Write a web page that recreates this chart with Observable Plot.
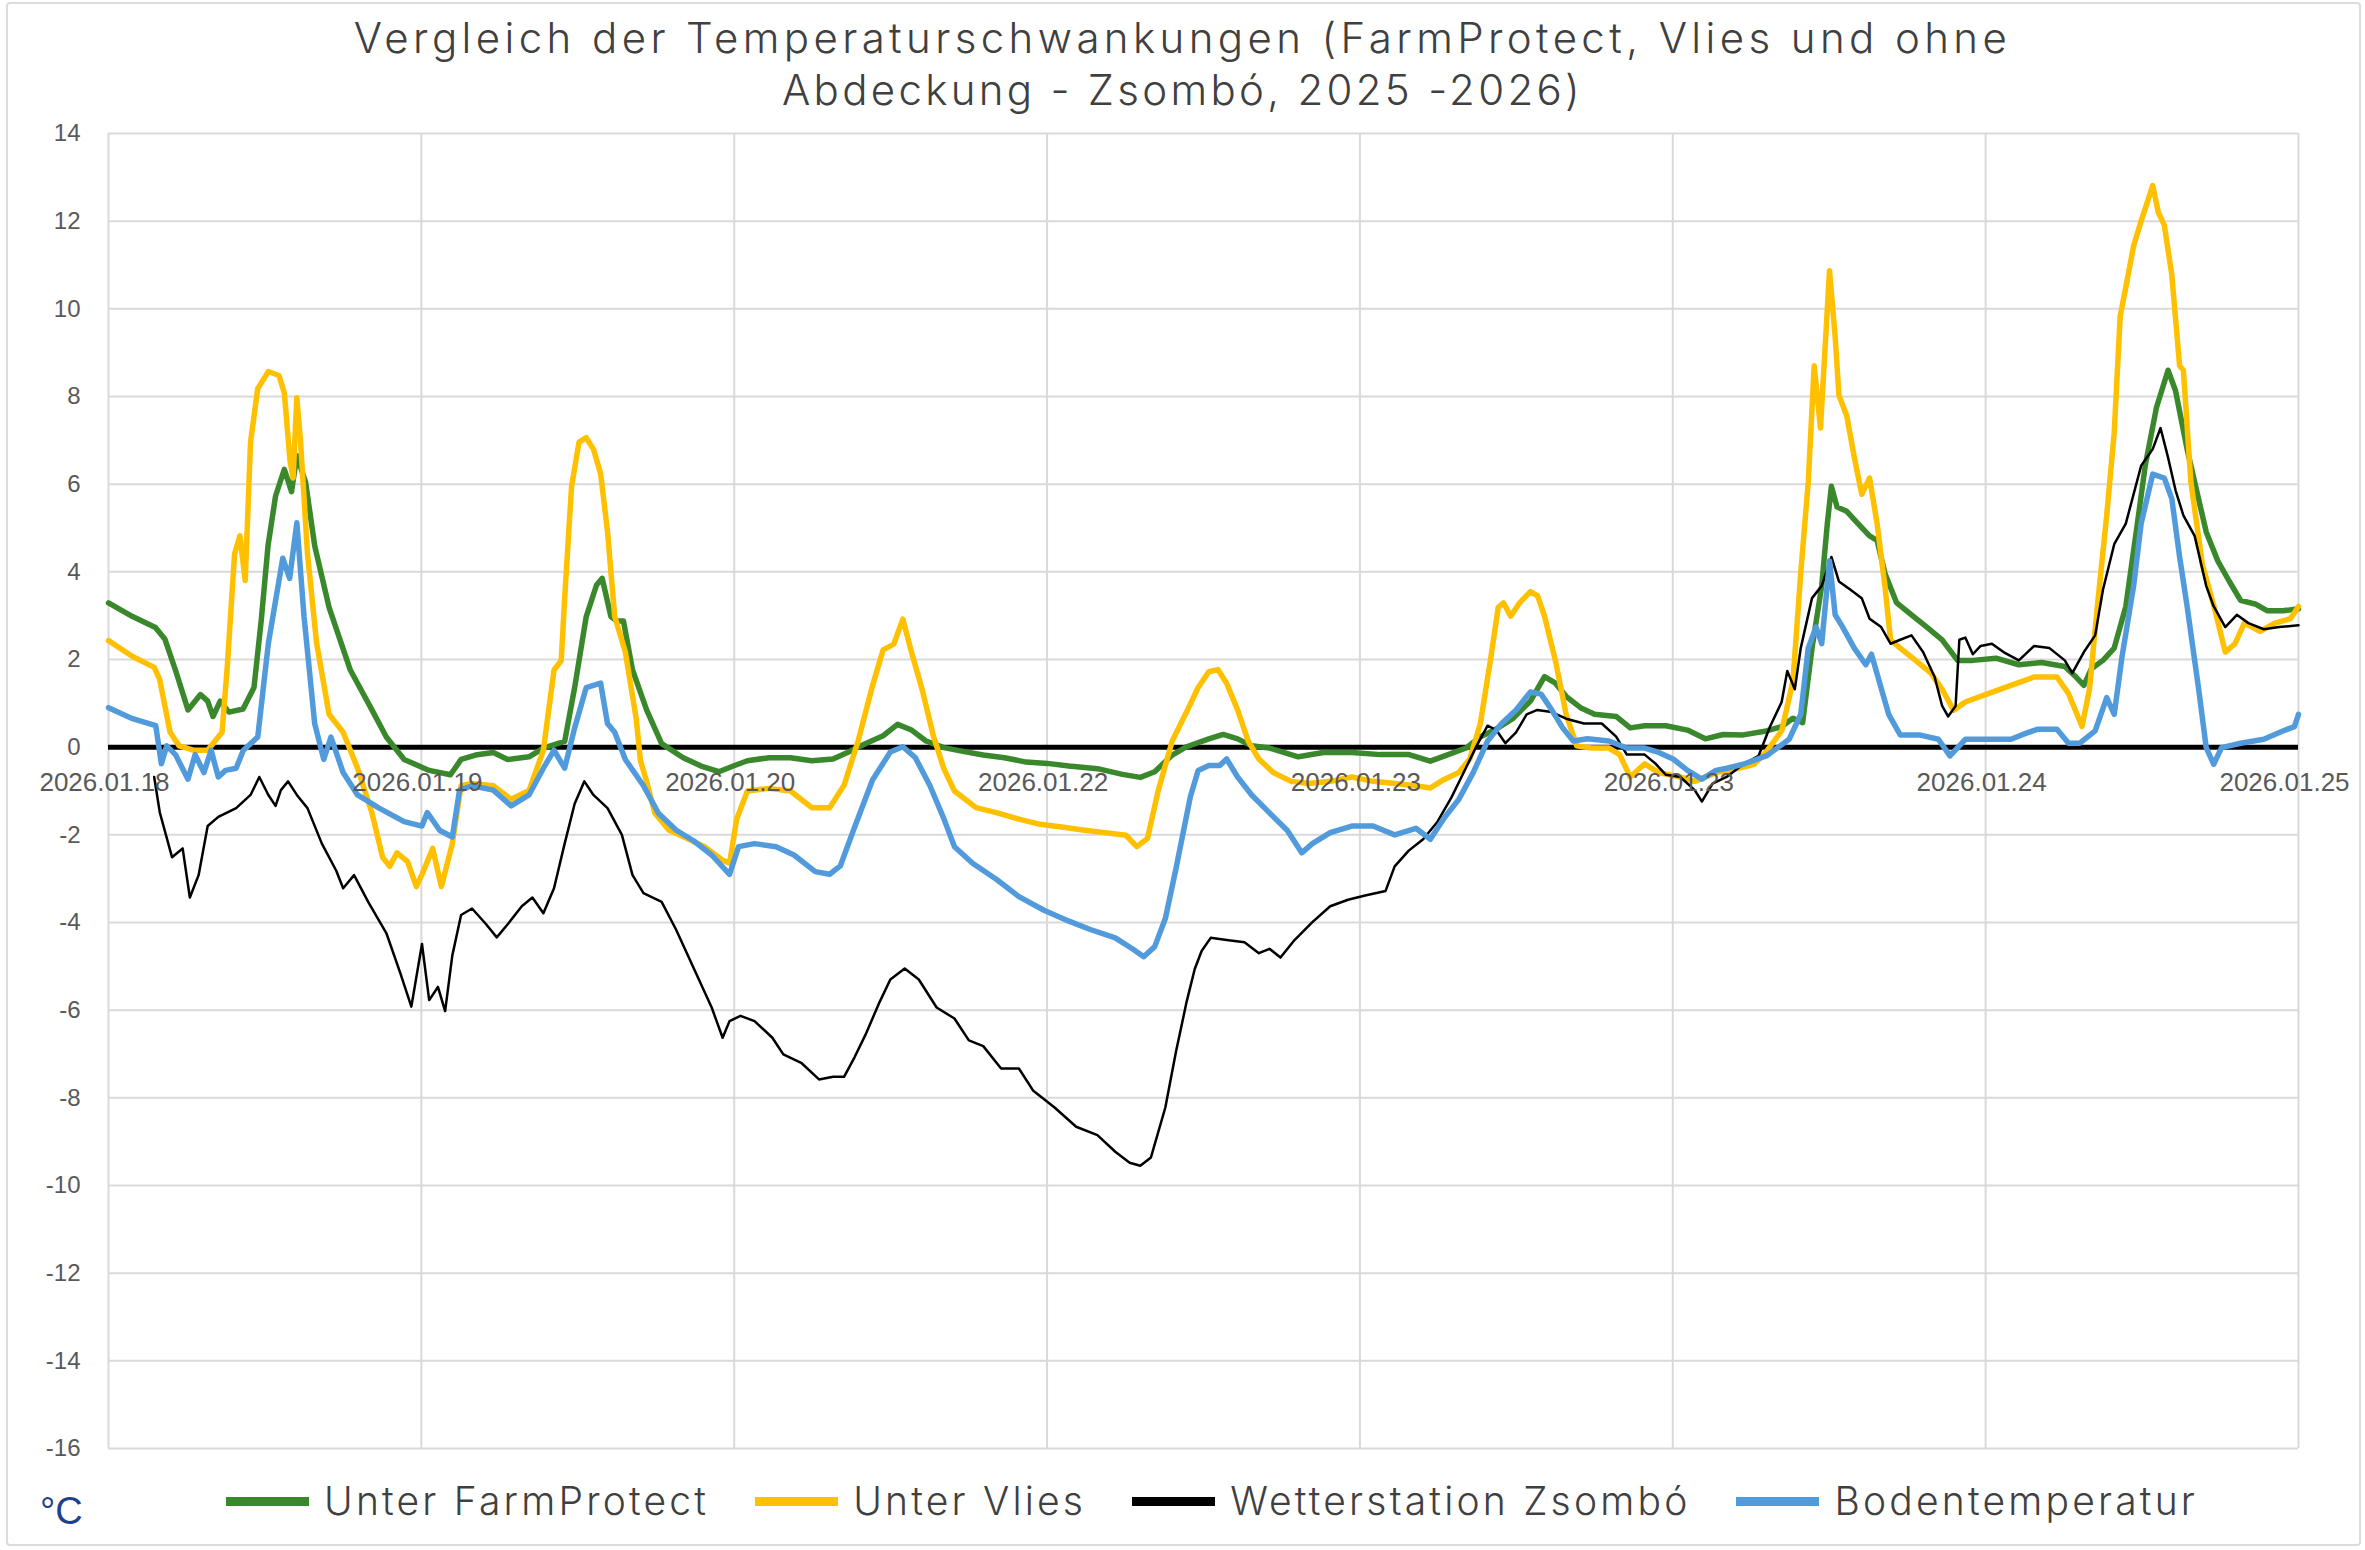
<!DOCTYPE html>
<html>
<head>
<meta charset="utf-8">
<script src="https://cdn.jsdelivr.net/npm/d3@7"></script>
<script src="https://cdn.jsdelivr.net/npm/@observablehq/plot@0.6"></script>
<style>
html, body { margin: 0; padding: 0; background: #fff; }
#frame { position: relative; width: 2365px; height: 1550px; overflow: hidden; background: #fff; font-family: Inter, "Open Sans", sans-serif; }
#border { position: absolute; left: 6px; top: 2px; width: 2351px; height: 1540px; border: 2px solid #dcdcdc; border-radius: 4px; pointer-events: none; }
.tline { position: absolute; left: 0; width: 2365px; height: 52px; text-align: center; color: #404040; font-size: 42px; font-weight: 300; line-height: 52px; white-space: nowrap; }
#chart { position: absolute; left: 0; top: 118px; }
#legend { position: absolute; left: 0; top: 1468px; width: 2365px; height: 66px; }
#unit { position: absolute; left: 40px; top: 10px; font-family: "Liberation Sans", Arial, sans-serif; font-size: 38px; color: #1f3f8f; line-height: 66px; }
#items { position: absolute; left: 226px; top: 0; height: 66px; display: flex; align-items: center; }
.item { display: flex; align-items: center; margin-right: 46px; }
.swatch { display: inline-block; width: 83px; height: 9px; margin-right: 15px; }
.label { font-size: 39px; font-weight: 300; letter-spacing: 3.2px; color: #404040; line-height: 66px; white-space: nowrap; }
</style>
</head>
<body>
<div id="frame">
  <div class="tline" style="top:12px; letter-spacing:4.4px">Vergleich der Temperaturschwankungen (FarmProtect, Vlies und ohne</div>
  <div class="tline" style="top:64px; letter-spacing:3.3px">Abdeckung - Zsombó, 2025 -2026)</div>
  <div id="chart"></div>
  <div id="legend"><span id="unit">°C</span><div id="items"></div></div>
  <div id="border"></div>
</div>
<script>
// ---- data (x = days since first label, y = °C) ----
const dayLabels = ["2026.01.18","2026.01.19","2026.01.20","2026.01.22","2026.01.23","2026.01.23","2026.01.24","2026.01.25"];
const yTicks = [-16,-14,-12,-10,-8,-6,-4,-2,0,2,4,6,8,10,12,14];
const seriesNames = ["Unter FarmProtect","Unter Vlies","Wetterstation Zsombó","Bodentemperatur"];
const seriesColors = ["#3a882c","#ffc000","#000000","#519bdd"];
const seriesWidths = [5.5, 5.5, 2.5, 5.5];

const farmProtect = [[0,3.29],[0.077,2.98],[0.15,2.73],[0.18,2.47],[0.214,1.76],[0.254,0.85],[0.294,1.2],[0.317,1.05],[0.334,0.7],[0.357,1.05],[0.385,0.8],[0.43,0.87],[0.465,1.36],[0.488,2.88],[0.51,4.6],[0.534,5.73],[0.562,6.34],[0.585,5.83],[0.602,6.65],[0.63,6.04],[0.659,4.6],[0.705,3.19],[0.773,1.76],[0.842,0.85],[0.888,0.23],[0.945,-0.28],[1.025,-0.53],[1.093,-0.63],[1.127,-0.28],[1.173,-0.18],[1.23,-0.12],[1.276,-0.28],[1.344,-0.22],[1.39,-0.02],[1.458,0.13],[1.49,1.36],[1.527,2.98],[1.56,3.7],[1.578,3.85],[1.606,2.98],[1.624,2.88],[1.646,2.88],[1.675,1.76],[1.72,0.85],[1.768,0.08],[1.837,-0.24],[1.894,-0.43],[1.951,-0.56],[1.997,-0.43],[2.042,-0.31],[2.111,-0.24],[2.18,-0.24],[2.248,-0.31],[2.316,-0.27],[2.362,-0.12],[2.419,0.08],[2.476,0.26],[2.522,0.52],[2.567,0.39],[2.613,0.14],[2.67,-0.01],[2.727,-0.09],[2.796,-0.18],[2.864,-0.24],[2.933,-0.34],[3.001,-0.37],[3.07,-0.43],[3.161,-0.49],[3.241,-0.62],[3.298,-0.69],[3.344,-0.56],[3.4,-0.18],[3.446,0.01],[3.517,0.19],[3.563,0.29],[3.609,0.19],[3.654,0.03],[3.711,-0.02],[3.803,-0.22],[3.883,-0.12],[3.974,-0.12],[4.065,-0.17],[4.157,-0.17],[4.225,-0.32],[4.282,-0.17],[4.339,-0.02],[4.385,0.24],[4.43,0.39],[4.488,0.65],[4.545,1.05],[4.59,1.61],[4.625,1.46],[4.659,1.16],[4.705,0.9],[4.75,0.75],[4.819,0.7],[4.864,0.44],[4.91,0.49],[4.978,0.49],[5.047,0.39],[5.104,0.19],[5.161,0.29],[5.225,0.28],[5.299,0.37],[5.348,0.47],[5.384,0.66],[5.415,0.56],[5.445,2.26],[5.476,3.68],[5.494,5.1],[5.507,5.95],[5.525,5.48],[5.556,5.38],[5.592,5.1],[5.629,4.82],[5.653,4.72],[5.678,3.97],[5.715,3.3],[5.763,3.02],[5.812,2.74],[5.861,2.45],[5.91,1.98],[5.959,1.98],[6.033,2.03],[6.106,1.88],[6.179,1.93],[6.253,1.84],[6.289,1.6],[6.314,1.41],[6.338,1.79],[6.375,1.98],[6.411,2.26],[6.448,3.21],[6.485,5.1],[6.51,6.42],[6.546,7.75],[6.583,8.6],[6.607,8.13],[6.62,7.66],[6.644,6.8],[6.668,6.05],[6.705,4.91],[6.742,4.25],[6.779,3.78],[6.815,3.35],[6.864,3.26],[6.901,3.11],[6.95,3.11],[7,3.16]];

const vlies = [[0,2.43],[0.077,2.07],[0.146,1.82],[0.163,1.56],[0.197,0.34],[0.226,0.03],[0.271,-0.07],[0.317,-0.07],[0.363,0.34],[0.38,1.87],[0.403,4.41],[0.42,4.82],[0.437,3.8],[0.454,6.96],[0.477,8.18],[0.511,8.57],[0.545,8.48],[0.562,8.08],[0.58,6.55],[0.59,6.14],[0.602,7.97],[0.614,6.96],[0.636,4.41],[0.665,2.38],[0.705,0.75],[0.75,0.34],[0.796,-0.48],[0.842,-1.5],[0.876,-2.51],[0.899,-2.72],[0.922,-2.41],[0.956,-2.61],[0.984,-3.18],[1.007,-2.82],[1.036,-2.31],[1.064,-3.18],[1.099,-2.2],[1.127,-0.88],[1.162,-0.83],[1.23,-0.88],[1.287,-1.19],[1.344,-0.99],[1.39,-0.07],[1.424,1.76],[1.447,1.97],[1.458,3.39],[1.48,5.94],[1.504,6.96],[1.527,7.06],[1.55,6.8],[1.573,6.24],[1.595,4.92],[1.618,2.98],[1.652,2.17],[1.687,0.64],[1.7,-0.3],[1.72,-0.78],[1.746,-1.5],[1.791,-1.89],[1.848,-2.08],[1.905,-2.27],[1.963,-2.58],[1.985,-2.65],[2.008,-1.64],[2.042,-1.0],[2.111,-0.94],[2.18,-1.0],[2.248,-1.38],[2.305,-1.38],[2.351,-0.87],[2.396,0.14],[2.442,1.4],[2.476,2.22],[2.51,2.35],[2.539,2.92],[2.567,2.16],[2.602,1.28],[2.636,0.27],[2.67,-0.49],[2.704,-1.0],[2.773,-1.38],[2.841,-1.5],[2.91,-1.64],[2.978,-1.76],[3.047,-1.82],[3.115,-1.89],[3.184,-1.95],[3.252,-2.01],[3.287,-2.27],[3.321,-2.08],[3.355,-1.0],[3.4,0.14],[3.449,0.85],[3.483,1.36],[3.517,1.72],[3.546,1.77],[3.574,1.46],[3.609,0.85],[3.643,0.14],[3.677,-0.27],[3.723,-0.58],[3.78,-0.78],[3.837,-0.83],[3.905,-0.78],[3.974,-0.68],[4.042,-0.78],[4.111,-0.83],[4.179,-0.88],[4.225,-0.93],[4.271,-0.73],[4.316,-0.58],[4.351,-0.27],[4.385,0.54],[4.419,2.07],[4.442,3.19],[4.459,3.29],[4.482,2.99],[4.51,3.29],[4.545,3.55],[4.568,3.45],[4.59,2.99],[4.625,1.97],[4.659,0.75],[4.693,0.03],[4.739,-0.02],[4.796,-0.02],[4.83,-0.17],[4.864,-0.68],[4.91,-0.38],[4.955,-0.58],[5.024,-0.68],[5.07,-0.78],[5.138,-0.58],[5.2,-0.5],[5.26,-0.39],[5.299,-0.1],[5.348,0.37],[5.384,1.5],[5.409,3.97],[5.433,6.05],[5.452,8.7],[5.472,7.28],[5.501,10.87],[5.519,9.36],[5.531,8.03],[5.556,7.56],[5.58,6.62],[5.604,5.77],[5.629,6.14],[5.653,5.1],[5.678,3.68],[5.696,2.45],[5.727,2.26],[5.776,1.98],[5.825,1.69],[5.861,1.32],[5.898,0.84],[5.935,1.03],[6.008,1.22],[6.081,1.41],[6.155,1.6],[6.228,1.6],[6.265,1.22],[6.308,0.47],[6.332,1.32],[6.357,3.21],[6.387,5.29],[6.411,7.18],[6.43,9.83],[6.448,10.49],[6.473,11.44],[6.497,12.0],[6.534,12.81],[6.552,12.2],[6.571,11.91],[6.595,10.78],[6.62,8.7],[6.632,8.6],[6.656,6.05],[6.693,4.16],[6.73,3.21],[6.766,2.17],[6.797,2.36],[6.827,2.83],[6.877,2.64],[6.925,2.83],[6.974,2.93],[7,3.21]];

const wetterstation = [[0.146,-0.68],[0.164,-1.49],[0.203,-2.51],[0.237,-2.31],[0.26,-3.43],[0.288,-2.92],[0.317,-1.8],[0.351,-1.59],[0.408,-1.39],[0.454,-1.09],[0.482,-0.68],[0.511,-1.09],[0.534,-1.34],[0.551,-0.98],[0.574,-0.78],[0.602,-1.09],[0.636,-1.39],[0.682,-2.2],[0.728,-2.82],[0.75,-3.22],[0.785,-2.92],[0.83,-3.53],[0.888,-4.24],[0.933,-5.16],[0.968,-5.92],[1.002,-4.49],[1.025,-5.77],[1.053,-5.47],[1.076,-6.02],[1.099,-4.75],[1.127,-3.83],[1.162,-3.68],[1.207,-4.04],[1.241,-4.34],[1.276,-4.04],[1.321,-3.63],[1.355,-3.43],[1.39,-3.79],[1.424,-3.22],[1.458,-2.2],[1.49,-1.29],[1.521,-0.78],[1.55,-1.09],[1.595,-1.39],[1.641,-2.0],[1.675,-2.92],[1.71,-3.33],[1.768,-3.53],[1.814,-4.16],[1.871,-5.05],[1.928,-5.94],[1.963,-6.63],[1.985,-6.25],[2.02,-6.13],[2.065,-6.25],[2.122,-6.63],[2.157,-7.01],[2.214,-7.2],[2.271,-7.58],[2.316,-7.52],[2.351,-7.52],[2.385,-7.07],[2.419,-6.57],[2.465,-5.81],[2.499,-5.3],[2.545,-5.05],[2.59,-5.3],[2.647,-5.94],[2.704,-6.19],[2.75,-6.69],[2.796,-6.82],[2.853,-7.33],[2.91,-7.33],[2.956,-7.84],[3.024,-8.22],[3.093,-8.66],[3.161,-8.85],[3.218,-9.23],[3.264,-9.48],[3.298,-9.55],[3.332,-9.36],[3.378,-8.22],[3.412,-6.95],[3.446,-5.81],[3.472,-5.06],[3.494,-4.65],[3.523,-4.35],[3.574,-4.4],[3.631,-4.45],[3.677,-4.7],[3.711,-4.6],[3.746,-4.8],[3.791,-4.4],[3.848,-3.99],[3.905,-3.63],[3.962,-3.48],[4.02,-3.38],[4.082,-3.28],[4.111,-2.72],[4.156,-2.36],[4.202,-2.1],[4.248,-1.7],[4.293,-1.14],[4.339,-0.47],[4.373,0.03],[4.408,0.49],[4.436,0.39],[4.465,0.09],[4.499,0.34],[4.533,0.75],[4.567,0.85],[4.613,0.8],[4.659,0.65],[4.716,0.54],[4.773,0.54],[4.819,0.24],[4.853,-0.17],[4.91,-0.17],[4.944,-0.37],[4.978,-0.63],[5.024,-0.68],[5.07,-0.98],[5.093,-1.24],[5.127,-0.83],[5.172,-0.68],[5.225,-0.39],[5.274,-0.2],[5.311,0.47],[5.348,1.03],[5.366,1.74],[5.39,1.32],[5.409,2.26],[5.445,3.4],[5.476,3.68],[5.507,4.34],[5.531,3.78],[5.568,3.59],[5.604,3.4],[5.629,2.93],[5.666,2.74],[5.696,2.36],[5.727,2.45],[5.763,2.55],[5.8,2.17],[5.837,1.6],[5.861,0.94],[5.88,0.7],[5.904,0.94],[5.916,2.45],[5.935,2.5],[5.959,2.12],[5.984,2.31],[6.02,2.36],[6.057,2.17],[6.106,1.98],[6.155,2.31],[6.204,2.26],[6.253,1.98],[6.277,1.69],[6.314,2.17],[6.35,2.55],[6.375,3.59],[6.411,4.63],[6.448,5.1],[6.497,6.42],[6.534,6.8],[6.559,7.28],[6.583,6.61],[6.607,5.86],[6.632,5.29],[6.668,4.82],[6.705,3.68],[6.729,3.21],[6.766,2.74],[6.803,3.02],[6.84,2.83],[6.889,2.69],[6.938,2.74],[7,2.78]];

const boden = [[0,0.9],[0.077,0.65],[0.151,0.49],[0.169,-0.38],[0.186,0.03],[0.214,-0.17],[0.254,-0.73],[0.277,-0.17],[0.305,-0.58],[0.328,-0.07],[0.351,-0.68],[0.374,-0.53],[0.408,-0.48],[0.431,-0.07],[0.477,0.23],[0.511,2.37],[0.557,4.31],[0.579,3.85],[0.602,5.12],[0.625,2.98],[0.659,0.54],[0.688,-0.28],[0.711,0.23],[0.75,-0.58],[0.796,-1.09],[0.865,-1.39],[0.945,-1.7],[1.002,-1.8],[1.019,-1.49],[1.059,-1.9],[1.099,-2.05],[1.122,-0.98],[1.162,-0.88],[1.23,-0.98],[1.287,-1.34],[1.344,-1.09],[1.39,-0.48],[1.424,-0.07],[1.458,-0.48],[1.49,0.44],[1.527,1.36],[1.573,1.46],[1.595,0.54],[1.618,0.34],[1.652,-0.28],[1.71,-0.88],[1.757,-1.5],[1.814,-1.89],[1.871,-2.14],[1.928,-2.46],[1.985,-2.9],[2.014,-2.27],[2.065,-2.2],[2.134,-2.27],[2.191,-2.46],[2.259,-2.84],[2.305,-2.9],[2.339,-2.71],[2.385,-1.82],[2.442,-0.75],[2.499,-0.11],[2.539,0.01],[2.579,-0.24],[2.625,-0.87],[2.67,-1.63],[2.704,-2.27],[2.762,-2.65],[2.841,-3.03],[2.91,-3.41],[2.99,-3.72],[3.07,-3.97],[3.138,-4.16],[3.218,-4.35],[3.275,-4.61],[3.309,-4.78],[3.344,-4.55],[3.378,-3.91],[3.412,-2.77],[3.458,-1.13],[3.483,-0.53],[3.517,-0.42],[3.552,-0.42],[3.574,-0.27],[3.609,-0.68],[3.654,-1.09],[3.711,-1.5],[3.768,-1.9],[3.814,-2.41],[3.848,-2.2],[3.905,-1.95],[3.974,-1.8],[4.042,-1.8],[4.111,-2.0],[4.179,-1.85],[4.225,-2.1],[4.271,-1.6],[4.316,-1.19],[4.362,-0.58],[4.408,0.14],[4.453,0.54],[4.499,0.85],[4.545,1.26],[4.579,1.21],[4.613,0.85],[4.648,0.44],[4.682,0.14],[4.727,0.19],[4.796,0.14],[4.853,-0.02],[4.91,-0.02],[4.955,-0.12],[5.001,-0.27],[5.047,-0.53],[5.093,-0.73],[5.138,-0.53],[5.173,-0.48],[5.225,-0.39],[5.299,-0.2],[5.372,0.18],[5.409,0.75],[5.433,2.26],[5.458,2.74],[5.476,2.36],[5.501,4.25],[5.519,3.02],[5.543,2.74],[5.58,2.26],[5.617,1.88],[5.635,2.12],[5.66,1.5],[5.69,0.75],[5.727,0.28],[5.788,0.28],[5.849,0.18],[5.886,-0.2],[5.935,0.18],[6.008,0.18],[6.081,0.18],[6.13,0.32],[6.167,0.41],[6.228,0.41],[6.265,0.09],[6.301,0.09],[6.35,0.37],[6.387,1.13],[6.411,0.75],[6.436,2.07],[6.473,3.68],[6.497,5.1],[6.534,6.23],[6.571,6.14],[6.595,5.67],[6.62,4.34],[6.644,3.21],[6.681,1.32],[6.705,-0.01],[6.729,-0.39],[6.754,-0.01],[6.815,0.09],[6.889,0.18],[6.95,0.37],[6.987,0.47],[7,0.75]];

const seriesData = [farmProtect, vlies, wetterstation, boden];

// ---- chart ----
const lineMarks = seriesData.map((pairs, i) =>
  Plot.line(pairs.map(([day, temp]) => ({day, temp})), {
    x: "day", y: "temp",
    stroke: seriesColors[i], strokeWidth: seriesWidths[i],
    strokeLinejoin: "round", strokeLinecap: "round"
  })
);

const lastIdx = dayLabels.length - 1;
const labelOpts = { y: () => 0, text: d => d, dy: 36, fontSize: 26, fill: "#595959" };

const chart = Plot.plot({
  width: 2365,
  height: 1350,
  marginLeft: 108,
  marginRight: 67,
  marginTop: 15,
  marginBottom: 20,
  style: { fontFamily: '"Liberation Sans", Arial, sans-serif', background: "transparent", overflow: "visible" },
  x: { domain: [0, lastIdx], axis: null },
  y: { domain: [yTicks[0], yTicks[yTicks.length - 1]], axis: null },
  marks: [
    Plot.gridX(d3.range(dayLabels.length), { stroke: "#d9d9d9", strokeOpacity: 1, strokeWidth: 2 }),
    Plot.gridY(yTicks, { stroke: "#d9d9d9", strokeOpacity: 1, strokeWidth: 2 }),
    Plot.ruleY([0], { stroke: "#000", strokeWidth: 5 }),
    ...lineMarks,
    Plot.text(dayLabels.slice(0, lastIdx), { ...labelOpts, x: (d, i) => i, dx: -4 }),
    Plot.text(dayLabels.slice(lastIdx), { ...labelOpts, x: () => lastIdx, dx: -14 }),
    Plot.axisY({
      ticks: yTicks, tickSize: 0, tickPadding: 28, fontSize: 24,
      color: "#595959", label: null, tickFormat: d => String(d)
    })
  ]
});
document.getElementById("chart").appendChild(chart);

// ---- legend ----
const items = document.getElementById("items");
seriesNames.forEach((name, i) => {
  const item = document.createElement("div");
  item.className = "item";
  const sw = document.createElement("span");
  sw.className = "swatch";
  sw.style.background = seriesColors[i];
  const lb = document.createElement("span");
  lb.className = "label";
  lb.textContent = name;
  item.appendChild(sw);
  item.appendChild(lb);
  items.appendChild(item);
});
</script>
</body>
</html>
